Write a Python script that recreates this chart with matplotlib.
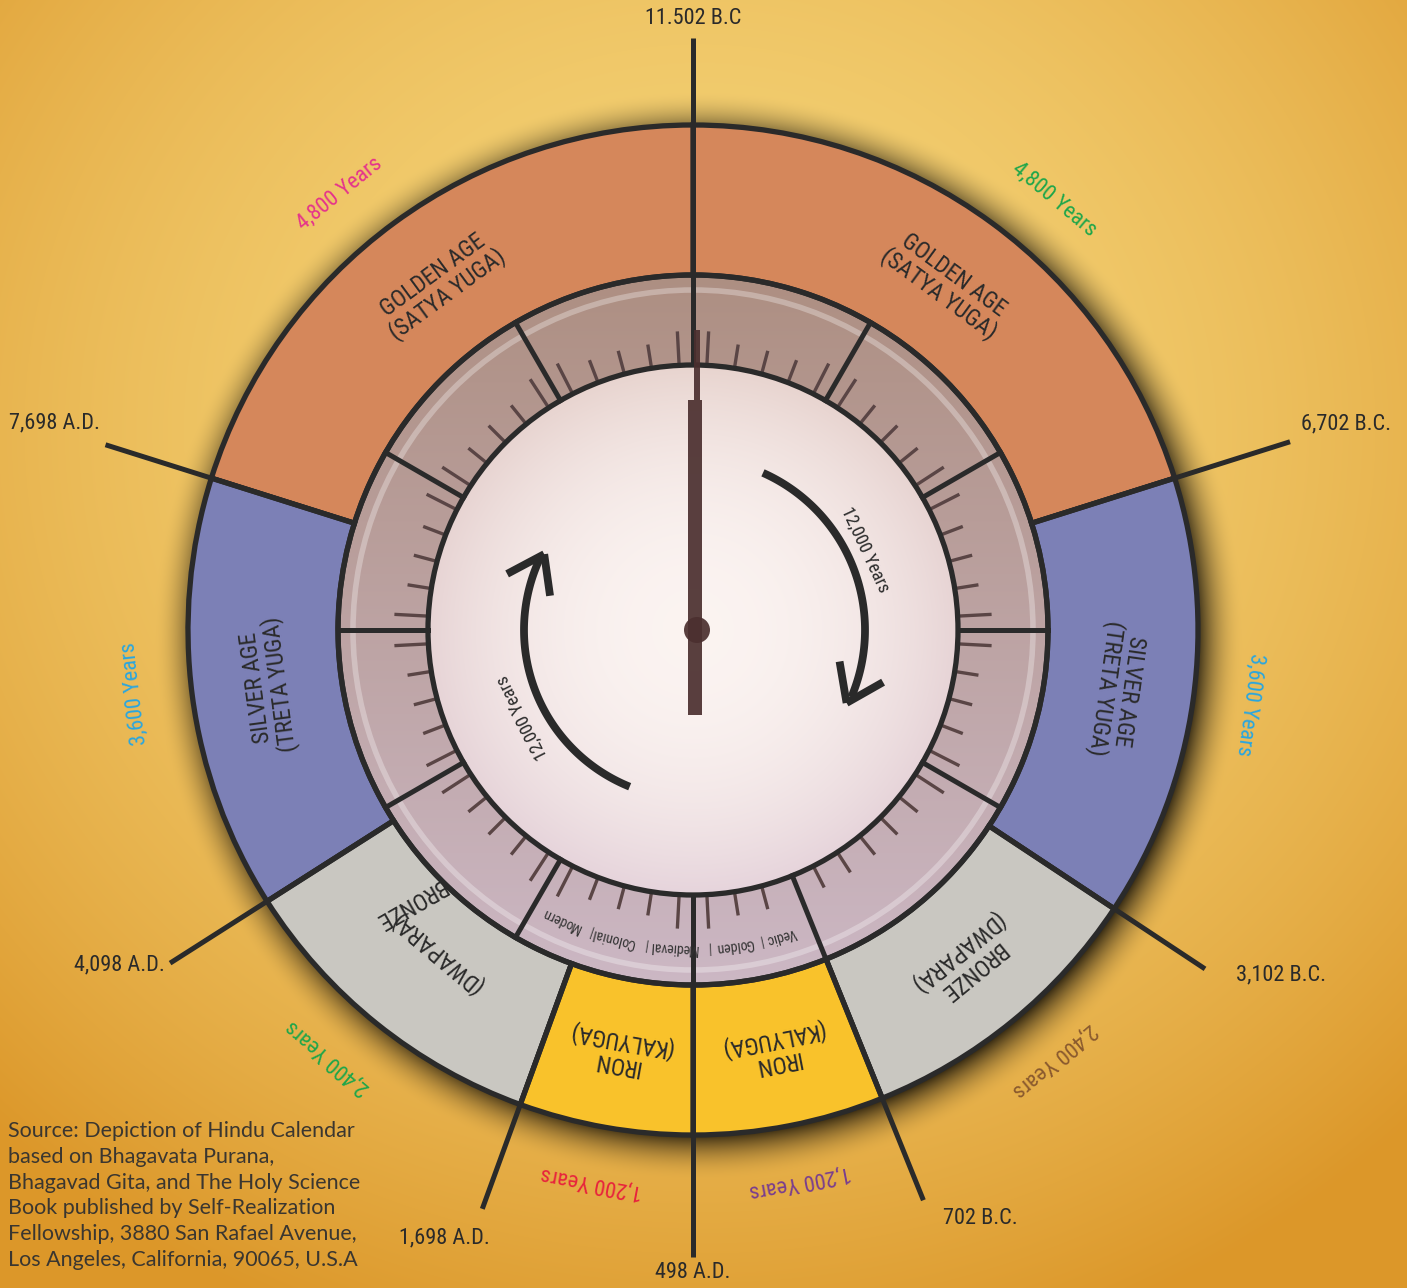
import os
import numpy as np
import matplotlib
matplotlib.use("Agg")
import matplotlib.pyplot as plt
from matplotlib import font_manager as fm
from matplotlib.patches import Wedge, Circle, Rectangle

W, H = 1407, 1288
CX, CY = 693, H - 630          # centre of the wheel (y axis points up)

# --- values ---
age_names = ["GOLDEN AGE\n(SATYA YUGA)", "SILVER AGE\n(TRETA YUGA)",
             "BRONZE\n(DWAPARA)", "IRON\n(KALYUGA)"]
age_years = ["4,800 Years", "3,600 Years", "2,400 Years", "1,200 Years"]
age_colors = ["#D5875B", "#7C80B6", "#C9C7C1", "#F9C22B"]
right_bounds = [90, 17.5, -33.5, -68, -90]      # descending half (B.C.)
left_bounds = [90, 162.5, 212.5, 250, 270]      # ascending half (A.D.)
right_year_colors = ["#1FA64A", "#2AA6DF", "#8A5A2E", "#7A3E8E"]
left_year_colors = ["#E5338B", "#2AA6DF", "#1FA64A", "#E8233C"]
right_year_angles = [50, -7.6, -50, -79]
left_year_angles = [129, 186.5, 229.5, 259.6]

date_labels = ["11.502 B.C", "6,702 B.C.", "3,102 B.C.", "702 B.C.",
               "498 A.D.", "1,698 A.D.", "4,098 A.D.", "7,698 A.D."]
date_angles = [90, 17.5, -33.5, -68, -90, 250, 212.5, 162.5]
line_end_r = [592, 626, 614, 615, 627, 616, 620, 616]
date_label_pos = [(90, 612), (17.5, 685), (-30.4, 682), (-64, 655),
                  (-90, 643), (247.8, 657), (210.3, 664), (162, 671)]

era_labels = ["Vedic", "Golden", "Medieval", "Colonial", "Modern"]
era_angles = [-74, -82.5, -93.6, -104.5, -114.4]
era_sep_angles = [-77.8, -87.2, -98.6, -108.9]
dial_divisions = [60, 30, 0, -30, -68, -120, -150, 180, 150, 120]
arrow_text = "12,000 Years"

source_text = ("Source: Depiction of Hindu Calendar\n"
               "based on Bhagavata Purana,\n"
               "Bhagavad Gita, and The Holy Science\n"
               "Book published by Self-Realization\n"
               "Fellowship, 3880 San Rafael Avenue,\n"
               "Los Angeles, California, 90065, U.S.A")

R_OUT, R_DIAL, R_IN = 505, 355, 265
DARK = "#2A2A2A"


def find_narrow():
    prefs = ["liberationsansnarrow-regular", "robotocondensed-regular",
             "dejavusanscondensed.", "condensed", "narrow"]
    files = [f.fname for f in fm.fontManager.ttflist]
    for p in prefs:
        for fn in files:
            base = os.path.basename(fn).lower()
            if p in base and not any(w in base for w in ("bold", "oblique", "italic", "light")):
                return fn
    return None


NARROW_FILE = find_narrow()


def narrow(size):
    if NARROW_FILE:
        return fm.FontProperties(fname=NARROW_FILE, size=size)
    return fm.FontProperties(family="DejaVu Sans", stretch="condensed", size=size)


def pol(a, r):
    t = np.radians(a)
    return CX + r * np.cos(t), CY + r * np.sin(t)


fig = plt.figure(figsize=(W / 100, H / 100), dpi=100)
ax = fig.add_axes([0, 0, 1, 1])
ax.set_xlim(0, W)
ax.set_ylim(0, H)
ax.set_aspect("equal")
ax.axis("off")

# parchment background with the wheel's shadow
xx, yy = np.meshgrid(np.arange(W) + 0.5, np.arange(H) + 0.5)
d = np.hypot((xx - 700) / 850, (yy - (H - 430)) / 800)
k = np.clip(d, 0, 1.2) ** 1.8
light = np.array([0.96, 0.83, 0.47])
deep = np.array([0.89, 0.66, 0.25])
bg = light[None, None, :] * (1 - k[..., None]) + deep[None, None, :] * k[..., None]
bg = np.clip(bg, 0, 1)
ds = np.hypot(xx - (CX + 6), yy - (CY - 6))
shade = np.clip(1 - (ds - 498) / 48, 0, 1) ** 2 * 0.78
shade[ds < 490] = 0
bg = bg * (1 - shade[..., None])
ax.imshow(bg, extent=[0, W, 0, H], origin="lower", zorder=0)

# dial disc
x0, x1 = CX - 360, CX + 360
y0, y1 = CY - 360, CY + 360
gx, gy = np.meshgrid(np.arange(x0, x1) + 0.5, np.arange(y0, y1) + 0.5)
rr = np.hypot(gx - CX, gy - CY)
tv = np.clip((CY + R_DIAL - gy) / (2 * R_DIAL), 0, 1)[..., None]
band_top = np.array([0.68, 0.56, 0.51])
band_bot = np.array([0.80, 0.72, 0.77])
band = band_top * (1 - tv) + band_bot * tv
c_mid = np.array([0.985, 0.955, 0.945])
c_top = np.array([0.91, 0.83, 0.80])
c_bot = np.array([0.90, 0.83, 0.87])
edge = c_top * (1 - tv) + c_bot * tv
f = np.clip(rr / R_IN, 0, 1)[..., None] ** 2.2
inner = c_mid * (1 - f) + edge * f
rgb = np.where((rr < R_IN)[..., None], inner, band)
alpha = (rr <= R_DIAL + 2).astype(float)[..., None]
ax.imshow(np.concatenate([rgb, alpha], axis=2), extent=[x0, x1, y0, y1],
          origin="lower", zorder=1)
ax.add_patch(Circle((CX, CY), 340, fill=False, ec="white", lw=4, alpha=0.3, zorder=1.5))

# outer ring
for bounds in (right_bounds, left_bounds):
    for i in range(4):
        a1, a2 = sorted((bounds[i], bounds[i + 1]))
        ax.add_patch(Wedge((CX, CY), R_OUT, a1, a2, width=R_OUT - R_DIAL,
                           fc=age_colors[i], ec=DARK, lw=3.8, zorder=2))

ax.add_patch(Circle((CX, CY), R_DIAL, fill=False, ec=DARK, lw=3.8, zorder=3))
ax.add_patch(Circle((CX, CY), R_IN, fill=False, ec=DARK, lw=3.8, zorder=3))

# dial ticks and divisions
divs = np.array(dial_divisions + [90, -90]) % 360
for a in np.arange(3, 360, 6):
    gap = np.min(np.abs((a - divs + 180) % 360 - 180))
    if gap < 2.5:
        continue
    ln = 34 if gap < 5 else 24
    xa, ya = pol(a, R_IN + 2)
    xb, yb = pol(a, R_IN + ln)
    ax.plot([xa, xb], [ya, yb], color="#5A4545", lw=2.4, solid_capstyle="butt", zorder=2.5)
for a in dial_divisions:
    xa, ya = pol(a, R_IN)
    xb, yb = pol(a, R_DIAL)
    ax.plot([xa, xb], [ya, yb], color=DARK, lw=3.6, zorder=3)

# boundary lines out to the dates
for a, r_end in zip(date_angles, line_end_r):
    r0 = R_IN if a in (90, -90) else R_DIAL
    xa, ya = pol(a, r0)
    xb, yb = pol(a, r_end)
    ax.plot([xa, xb], [ya, yb], color=DARK, lw=3.6, solid_capstyle="butt", zorder=3)

for lab, (a, r) in zip(date_labels, date_label_pos):
    x, y = pol(a, r)
    ax.text(x, y, lab, ha="center", va="center", fontproperties=narrow(16),
            color=DARK, zorder=5)


def ring_text(a, r, s, size, color, rot=None):
    x, y = pol(a, r)
    ax.text(x, y, s, ha="center", va="center", rotation=(a - 90) if rot is None else rot,
            rotation_mode="anchor", fontproperties=narrow(size), color=color,
            linespacing=1.0, multialignment="center", zorder=5)


# ring labels and year spans
for i in range(4):
    ra = (right_bounds[i] + right_bounds[i + 1]) / 2
    ring_text(ra, 428, age_names[i], 17, DARK)
    if i != 2:
        la = (left_bounds[i] + left_bounds[i + 1]) / 2
        ring_text(la, 428, age_names[i], 17, DARK)
    ring_text(right_year_angles[i], 562, age_years[i], 16, right_year_colors[i])
    ring_text(left_year_angles[i], 562, age_years[i], 16, left_year_colors[i])

# the misprinted left bronze label, overlapping as in the original
ax.text(436, H - 952, "(DWAPARA)", ha="center", va="center", rotation=140,
        rotation_mode="anchor", fontproperties=narrow(17), color=DARK, zorder=5)
ax.text(410, H - 903, "BRONZE", ha="center", va="center", rotation=-150,
        rotation_mode="anchor", fontproperties=narrow(17), color=DARK, zorder=5)

# era names at the bottom of the dial
for lab, a in zip(era_labels, era_angles):
    ring_text(a, 318, lab, 10, "#333333")
for a in era_sep_angles:
    ring_text(a, 318, "|", 10, "#333333")

# hand
hand = "#4B2F2F"
ax.add_patch(Rectangle((688, H - 715), 14, 315, fc=hand, ec="none", alpha=0.92, zorder=4))
ax.add_patch(Rectangle((694, H - 400), 6, 70, fc=hand, ec="none", alpha=0.92, zorder=4))
ax.add_patch(Circle((697, H - 630), 13, fc=hand, ec="none", alpha=0.92, zorder=4))


# cycle arrows
def cycle_arrow(a_start, a_end, r_arc, a_tip, r_tip):
    t = np.radians(np.linspace(a_start, a_end, 120))
    ax.plot(CX + r_arc * np.cos(t), CY + r_arc * np.sin(t), color=DARK, lw=5.6,
            solid_capstyle="butt", zorder=4)
    tx, ty = pol(a_tip, r_tip)
    back = np.degrees(np.arctan2(np.cos(np.radians(a_tip)), -np.sin(np.radians(a_tip))))
    for da in (35, -35):
        b = np.radians(back + da)
        ax.plot([tx, tx + 42 * np.cos(b)], [ty, ty + 42 * np.sin(b)], color=DARK,
                lw=5.6, solid_capstyle="butt", zorder=4)


cycle_arrow(66, -23, 172, -25.4, 170)
cycle_arrow(248, 155, 169, 153, 167)
ring_text(25, 190, arrow_text, 13, DARK)
ring_text(207, 192, arrow_text, 13, DARK)

ax.text(8, H - 1121, source_text, ha="left", va="top", fontsize=15.5, color="#3A3630",
        family=["Lato", "DejaVu Sans"], linespacing=1.36, zorder=5)

fig.savefig("out.png", dpi=100)
